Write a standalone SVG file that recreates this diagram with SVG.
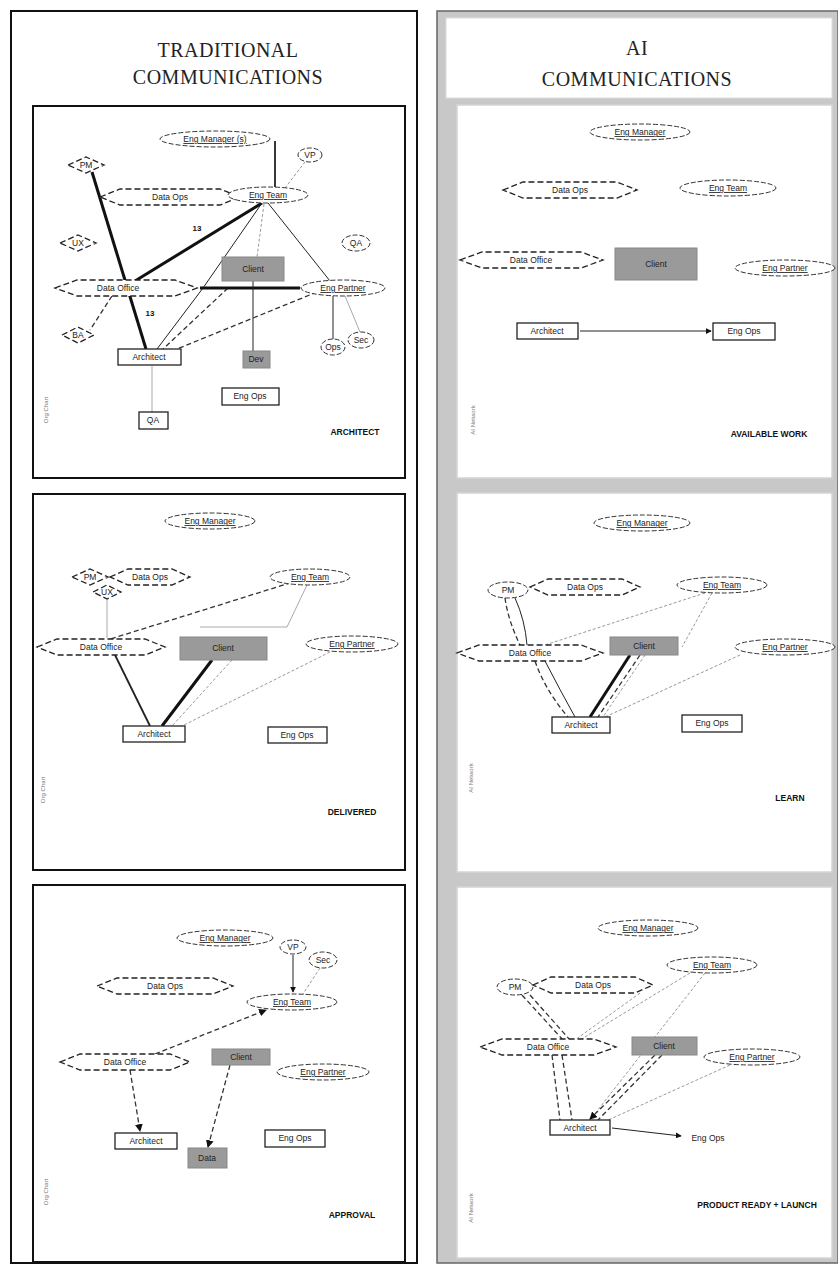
<svg xmlns="http://www.w3.org/2000/svg" width="838" height="1274" viewBox="0 0 838 1274">
  <defs>
    <marker id="ah" viewBox="0 0 8 8" refX="7" refY="4" markerWidth="6" markerHeight="6" orient="auto">
      <path d="M0,0 L8,4 L0,8 z" fill="#111"/>
    </marker>
    <style>
      .frame{fill:#fff;stroke:#111;stroke-width:2}
      .gframe{fill:#fff;stroke:#d4d4d4;stroke-width:1.5}
      .title{font-family:"Liberation Serif",serif;font-size:20px;fill:#222;text-anchor:middle;letter-spacing:0.5px}
      .ell{fill:#fff;stroke:#333;stroke-width:1;stroke-dasharray:5 2}
      .hex{fill:#fff;stroke:#222;stroke-width:1.3;stroke-dasharray:6 3}
      .box{fill:#fff;stroke:#222;stroke-width:1.3}
      .gbox{fill:#9a9a9a;stroke:#888;stroke-width:1}
      .lbl{font-family:"Liberation Sans",sans-serif;font-size:8.5px;fill:#222;text-anchor:middle}
      .ul{text-decoration:underline}
      .tag{font-family:"Liberation Sans",sans-serif;font-size:8.5px;font-weight:bold;fill:#111;text-anchor:middle}
      .side{font-family:"Liberation Sans",sans-serif;font-size:6px;fill:#777;text-anchor:middle}
      .num{font-family:"Liberation Sans",sans-serif;font-size:8px;font-weight:bold;fill:#111;text-anchor:middle}
      .s{fill:none;stroke:#222;stroke-width:1}
      .t{fill:none;stroke:#111;stroke-width:3}
      .m{fill:none;stroke:#222;stroke-width:1.8}
      .d{fill:none;stroke:#333;stroke-width:1.3;stroke-dasharray:5 3}
      .g{fill:none;stroke:#999;stroke-width:1;stroke-dasharray:3 2}
      .gs{fill:none;stroke:#aaa;stroke-width:1}
    </style>
  </defs>

  <rect width="838" height="1274" fill="#fff"/>

  <!-- left column: traditional -->
  <g id="col-traditional">
    <rect x="11" y="11" width="406" height="1252" fill="#fff" stroke="#111" stroke-width="2"/>
    <text class="title" x="228" y="57">TRADITIONAL</text>
    <text class="title" x="228" y="84">COMMUNICATIONS</text>
    <rect class="frame" x="33" y="106" width="372" height="372"/>
    <rect class="frame" x="33" y="494" width="372" height="376"/>
    <rect class="frame" x="33" y="885" width="372" height="377"/>
  </g>

  <!-- right column: AI -->
  <g id="col-ai">
    <rect x="437" y="11" width="401" height="1252" fill="#c8c8c8" stroke="#666" stroke-width="1.5"/>
    <rect x="446" y="18" width="386" height="80" fill="#fff" stroke="#ddd"/>
    <text class="title" x="637" y="55" font-size="16">AI</text>
    <text class="title" x="637" y="86">COMMUNICATIONS</text>
    <rect class="gframe" x="457" y="105" width="375" height="373"/>
    <rect class="gframe" x="457" y="493" width="375" height="379"/>
    <rect class="gframe" x="457" y="887" width="375" height="371"/>
  </g>

  <!-- connectors -->
  <g id="connectors">
    <!-- L1 -->
    <line class="t" x1="92" y1="172" x2="146" y2="349"/>
    <line class="t" x1="262" y1="203" x2="135" y2="281"/>
    <line class="m" x1="275" y1="141" x2="275" y2="187"/>
    <line class="g" x1="305" y1="162" x2="285" y2="188"/>
    <line class="s" x1="268" y1="203" x2="330" y2="281"/>
    <line class="s" x1="262" y1="203" x2="203" y2="288"/>
    <line class="s" x1="203" y1="288" x2="157" y2="349"/>
    <line class="g" x1="264" y1="204" x2="257" y2="257"/>
    <line class="d" x1="228" y1="288" x2="163" y2="349"/>
    <line class="d" x1="317" y1="292" x2="177" y2="349"/>
    <line class="t" x1="200" y1="288" x2="300" y2="288"/>
    <line class="s" x1="253" y1="281" x2="253" y2="351"/>
    <line class="d" x1="112" y1="296" x2="90" y2="330"/>
    <line class="s" x1="333" y1="296" x2="333" y2="339"/>
    <line class="gs" x1="345" y1="296" x2="360" y2="332"/>
    <line class="gs" x1="152" y1="366" x2="152" y2="412"/>
    <text class="num" x="197" y="231">13</text>
    <text class="num" x="150" y="316">13</text>
    <!-- L2 -->
    <line class="m" x1="115" y1="655" x2="150" y2="726"/>
    <line class="t" x1="212" y1="660" x2="162" y2="726"/>
    <line class="g" x1="232" y1="660" x2="172" y2="726"/>
    <line class="g" x1="330" y1="652" x2="180" y2="727"/>
    <line class="d" x1="88" y1="646" x2="290" y2="583"/>
    <polyline class="gs" points="307,585 287,627 200,627"/>
    <line class="gs" x1="107" y1="600" x2="107" y2="638"/>
    <!-- L3 -->
    <line class="d" x1="155" y1="1054" x2="266" y2="1010" stroke-width="2.4" marker-end="url(#ah)"/>
    <line class="s" x1="293" y1="955" x2="293" y2="992" marker-end="url(#ah)"/>
    <line class="g" x1="320" y1="968" x2="303" y2="994"/>
    <line class="d" x1="130" y1="1070" x2="140" y2="1131" marker-end="url(#ah)"/>
    <line class="d" x1="230" y1="1065" x2="208" y2="1147" marker-end="url(#ah)"/>
    <!-- R1 -->
    <line class="s" x1="580" y1="331" x2="711" y2="331" marker-end="url(#ah)"/>
    <!-- R2 -->
    <path class="d" d="M505,598 Q508,620 520,645"/>
    <path class="s" d="M515,598 Q525,620 527,645"/>
    <path class="d" d="M535,661 Q545,690 568,717"/>
    <path class="s" d="M545,661 Q560,690 575,717"/>
    <line class="t" x1="630" y1="655" x2="590" y2="717"/>
    <line class="d" x1="640" y1="655" x2="598" y2="717"/>
    <line class="g" x1="705" y1="593" x2="545" y2="645"/>
    <line class="g" x1="712" y1="593" x2="682" y2="647"/>
    <line class="g" x1="740" y1="655" x2="605" y2="717"/>
    <line class="g" x1="645" y1="655" x2="603" y2="717"/>
    <!-- R3 -->
    <line class="d" x1="522" y1="995" x2="563" y2="1040"/>
    <line class="d" x1="530" y1="995" x2="570" y2="1040"/>
    <line class="g" x1="640" y1="993" x2="575" y2="1040"/>
    <line class="g" x1="690" y1="973" x2="580" y2="1040"/>
    <line class="g" x1="705" y1="973" x2="590" y2="1120"/>
    <line class="d" x1="552" y1="1055" x2="560" y2="1120"/>
    <line class="d" x1="562" y1="1055" x2="572" y2="1120"/>
    <line class="d" x1="655" y1="1055" x2="590" y2="1119" stroke-width="2.4" marker-end="url(#ah)"/>
    <line class="d" x1="662" y1="1055" x2="598" y2="1120"/>
    <line class="g" x1="730" y1="1065" x2="606" y2="1121"/>
    <line class="s" x1="612" y1="1128" x2="681" y2="1136" marker-end="url(#ah)"/>
  </g>

  <!-- L1 nodes -->
  <g id="l1-mgr"><ellipse class="ell" cx="215" cy="139" rx="55" ry="8"/><text class="lbl ul" x="215" y="142">Eng Manager (s)</text></g>
  <g id="l1-vp"><ellipse class="ell" cx="310" cy="155" rx="12" ry="7"/><text class="lbl" x="310" y="158">VP</text></g>
  <g id="l1-pm"><polygon class="hex" points="68,165 86,157 104,165 86,173"/><text class="lbl" x="86" y="168">PM</text></g>
  <g id="l1-ops"><polygon class="hex" points="100,197 120,189 220,189 240,197 220,205 120,205"/><text class="lbl" x="170" y="200">Data Ops</text></g>
  <g id="l1-team"><ellipse class="ell" cx="268" cy="195" rx="40" ry="8"/><text class="lbl ul" x="268" y="198">Eng Team</text></g>
  <g id="l1-ux"><polygon class="hex" points="60,243 78,235 96,243 78,251"/><text class="lbl" x="78" y="246">UX</text></g>
  <g id="l1-qa"><ellipse class="ell" cx="356" cy="243" rx="14" ry="8"/><text class="lbl" x="356" y="246">QA</text></g>
  <g id="l1-client"><rect class="gbox" x="222" y="257" width="62" height="24"/><text class="lbl" x="253" y="272">Client</text></g>
  <g id="l1-office"><polygon class="hex" points="55,288 77,280 175,280 197,288 175,296 77,296"/><text class="lbl" x="118" y="291">Data Office</text></g>
  <g id="l1-partner"><ellipse class="ell" cx="343" cy="288" rx="42" ry="8"/><text class="lbl ul" x="343" y="291">Eng Partner</text></g>
  <g id="l1-ba"><polygon class="hex" points="62,335 78,327 94,335 78,343"/><text class="lbl" x="78" y="338">BA</text></g>
  <g id="l1-e1"><ellipse class="ell" cx="333" cy="347" rx="12" ry="8"/><text class="lbl" x="333" y="350">Ops</text></g>
  <g id="l1-e2"><ellipse class="ell" cx="361" cy="340" rx="13" ry="8"/><text class="lbl" x="361" y="343">Sec</text></g>
  <g id="l1-arch"><rect class="box" x="118" y="349" width="63" height="16"/><text class="lbl" x="149" y="360">Architect</text></g>
  <g id="l1-dev"><rect class="gbox" x="243" y="351" width="27" height="17"/><text class="lbl" x="256" y="362">Dev</text></g>
  <g id="l1-engops"><rect class="box" x="222" y="388" width="57" height="17"/><text class="lbl" x="250" y="399">Eng Ops</text></g>
  <g id="l1-qa2"><rect class="box" x="139" y="412" width="29" height="17"/><text class="lbl" x="153" y="423">QA</text></g>
  <g id="l1-tag"><text class="tag" x="355" y="435">ARCHITECT</text><text class="side" transform="translate(48,410) rotate(-90)">Org Chart</text></g>

  <!-- L2 nodes -->
  <g id="l2-mgr"><ellipse class="ell" cx="210" cy="521" rx="45" ry="8"/><text class="lbl ul" x="210" y="524">Eng Manager</text></g>
  <g id="l2-pm"><polygon class="hex" points="72,577 90,569 108,577 90,585"/><text class="lbl" x="90" y="580">PM</text></g>
  <g id="l2-ux"><polygon class="hex" points="93,592 107,585 121,592 107,599"/><text class="lbl" x="107" y="595">UX</text></g>
  <g id="l2-ops"><polygon class="hex" points="110,577 128,569 172,569 190,577 172,585 128,585"/><text class="lbl" x="150" y="580">Data Ops</text></g>
  <g id="l2-team"><ellipse class="ell" cx="310" cy="577" rx="40" ry="8"/><text class="lbl ul" x="310" y="580">Eng Team</text></g>
  <g id="l2-office"><polygon class="hex" points="37,647 57,639 145,639 165,647 145,655 57,655"/><text class="lbl" x="101" y="650">Data Office</text></g>
  <g id="l2-client"><rect class="gbox" x="180" y="637" width="87" height="23"/><text class="lbl" x="223" y="651">Client</text></g>
  <g id="l2-partner"><ellipse class="ell" cx="352" cy="644" rx="46" ry="8"/><text class="lbl ul" x="352" y="647">Eng Partner</text></g>
  <g id="l2-arch"><rect class="box" x="123" y="726" width="62" height="16"/><text class="lbl" x="154" y="737">Architect</text></g>
  <g id="l2-engops"><rect class="box" x="268" y="727" width="59" height="16"/><text class="lbl" x="297" y="738">Eng Ops</text></g>
  <g id="l2-tag"><text class="tag" x="352" y="815">DELIVERED</text><text class="side" transform="translate(45,790) rotate(-90)">Org Chart</text></g>

  <!-- L3 nodes -->
  <g id="l3-mgr"><ellipse class="ell" cx="225" cy="938" rx="48" ry="8"/><text class="lbl ul" x="225" y="941">Eng Manager</text></g>
  <g id="l3-vp"><ellipse class="ell" cx="293" cy="947" rx="13" ry="7"/><text class="lbl" x="293" y="950">VP</text></g>
  <g id="l3-sec"><ellipse class="ell" cx="323" cy="960" rx="14" ry="8"/><text class="lbl" x="323" y="963">Sec</text></g>
  <g id="l3-ops"><polygon class="hex" points="97,986 117,978 213,978 233,986 213,994 117,994"/><text class="lbl" x="165" y="989">Data Ops</text></g>
  <g id="l3-team"><ellipse class="ell" cx="292" cy="1002" rx="45" ry="8"/><text class="lbl ul" x="292" y="1005">Eng Team</text></g>
  <g id="l3-office"><polygon class="hex" points="60,1062 80,1054 170,1054 190,1062 170,1070 80,1070"/><text class="lbl" x="125" y="1065">Data Office</text></g>
  <g id="l3-client"><rect class="gbox" x="212" y="1049" width="58" height="16"/><text class="lbl" x="241" y="1060">Client</text></g>
  <g id="l3-partner"><ellipse class="ell" cx="323" cy="1072" rx="46" ry="8"/><text class="lbl ul" x="323" y="1075">Eng Partner</text></g>
  <g id="l3-arch"><rect class="box" x="115" y="1133" width="62" height="16"/><text class="lbl" x="146" y="1144">Architect</text></g>
  <g id="l3-data"><rect class="gbox" x="188" y="1148" width="39" height="20"/><text class="lbl" x="207" y="1161">Data</text></g>
  <g id="l3-engops"><rect class="box" x="265" y="1130" width="60" height="17"/><text class="lbl" x="295" y="1141">Eng Ops</text></g>
  <g id="l3-tag"><text class="tag" x="352" y="1218">APPROVAL</text><text class="side" transform="translate(48,1192) rotate(-90)">Org Chart</text></g>

  <!-- R1 nodes -->
  <g id="r1-mgr"><ellipse class="ell" cx="640" cy="132" rx="50" ry="8"/><text class="lbl ul" x="640" y="135">Eng Manager</text></g>
  <g id="r1-ops"><polygon class="hex" points="503,190 523,182 617,182 637,190 617,198 523,198"/><text class="lbl" x="570" y="193">Data Ops</text></g>
  <g id="r1-team"><ellipse class="ell" cx="728" cy="188" rx="48" ry="8"/><text class="lbl ul" x="728" y="191">Eng Team</text></g>
  <g id="r1-office"><polygon class="hex" points="460,260 482,252 581,252 603,260 581,268 482,268"/><text class="lbl" x="531" y="263">Data Office</text></g>
  <g id="r1-client"><rect class="gbox" x="615" y="248" width="82" height="32"/><text class="lbl" x="656" y="267">Client</text></g>
  <g id="r1-partner"><ellipse class="ell" cx="785" cy="268" rx="50" ry="8"/><text class="lbl ul" x="785" y="271">Eng Partner</text></g>
  <g id="r1-arch"><rect class="box" x="517" y="323" width="61" height="16"/><text class="lbl" x="547" y="334">Architect</text></g>
  <g id="r1-engops"><rect class="box" x="713" y="323" width="62" height="17"/><text class="lbl" x="744" y="334">Eng Ops</text></g>
  <g id="r1-tag"><text class="tag" x="769" y="437">AVAILABLE WORK</text><text class="side" transform="translate(475,420) rotate(-90)">AI Network</text></g>

  <!-- R2 nodes -->
  <g id="r2-mgr"><ellipse class="ell" cx="642" cy="523" rx="48" ry="8"/><text class="lbl ul" x="642" y="526">Eng Manager</text></g>
  <g id="r2-pm"><ellipse class="ell" cx="508" cy="590" rx="20" ry="8"/><text class="lbl" x="508" y="593">PM</text></g>
  <g id="r2-ops"><polygon class="hex" points="530,587 548,579 622,579 640,587 622,595 548,595"/><text class="lbl" x="585" y="590">Data Ops</text></g>
  <g id="r2-team"><ellipse class="ell" cx="722" cy="585" rx="45" ry="8"/><text class="lbl ul" x="722" y="588">Eng Team</text></g>
  <g id="r2-office"><polygon class="hex" points="457,653 479,645 581,645 603,653 581,661 479,661"/><text class="lbl" x="530" y="656">Data Office</text></g>
  <g id="r2-client"><rect class="gbox" x="610" y="637" width="68" height="18"/><text class="lbl" x="644" y="649">Client</text></g>
  <g id="r2-partner"><ellipse class="ell" cx="785" cy="647" rx="50" ry="8"/><text class="lbl ul" x="785" y="650">Eng Partner</text></g>
  <g id="r2-arch"><rect class="box" x="552" y="717" width="58" height="16"/><text class="lbl" x="581" y="728">Architect</text></g>
  <g id="r2-engops"><rect class="box" x="682" y="715" width="60" height="17"/><text class="lbl" x="712" y="726">Eng Ops</text></g>
  <g id="r2-tag"><text class="tag" x="790" y="801">LEARN</text><text class="side" transform="translate(473,778) rotate(-90)">AI Network</text></g>

  <!-- R3 nodes -->
  <g id="r3-mgr"><ellipse class="ell" cx="648" cy="928" rx="50" ry="8"/><text class="lbl ul" x="648" y="931">Eng Manager</text></g>
  <g id="r3-team"><ellipse class="ell" cx="712" cy="965" rx="45" ry="8"/><text class="lbl ul" x="712" y="968">Eng Team</text></g>
  <g id="r3-pm"><ellipse class="ell" cx="515" cy="987" rx="18" ry="8"/><text class="lbl" x="515" y="990">PM</text></g>
  <g id="r3-ops"><polygon class="hex" points="533,985 551,977 635,977 653,985 635,993 551,993"/><text class="lbl" x="593" y="988">Data Ops</text></g>
  <g id="r3-office"><polygon class="hex" points="480,1047 502,1039 594,1039 616,1047 594,1055 502,1055"/><text class="lbl" x="548" y="1050">Data Office</text></g>
  <g id="r3-client"><rect class="gbox" x="632" y="1037" width="65" height="18"/><text class="lbl" x="664" y="1049">Client</text></g>
  <g id="r3-partner"><ellipse class="ell" cx="752" cy="1057" rx="48" ry="8"/><text class="lbl ul" x="752" y="1060">Eng Partner</text></g>
  <g id="r3-arch"><rect class="box" x="550" y="1120" width="60" height="15"/><text class="lbl" x="580" y="1131">Architect</text></g>
  <g id="r3-engops"><text class="lbl" x="708" y="1141">Eng Ops</text></g>
  <g id="r3-tag"><text class="tag" x="757" y="1208">PRODUCT READY + LAUNCH</text><text class="side" transform="translate(473,1208) rotate(-90)">AI Network</text></g>
</svg>
